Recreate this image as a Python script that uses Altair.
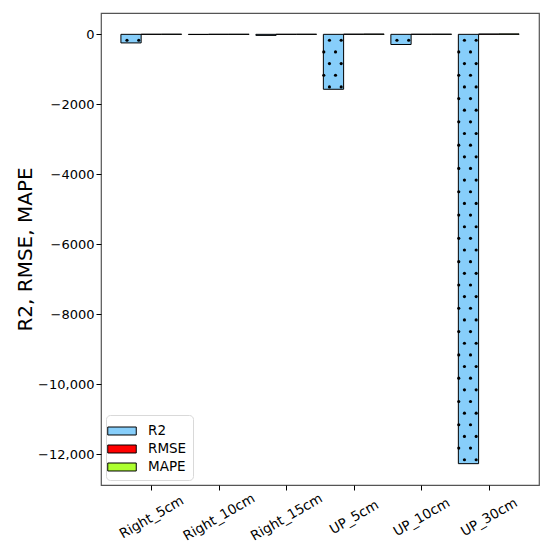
import altair as alt
import pandas as pd

categories = ["Right_5cm", "Right_10cm", "Right_15cm", "UP_5cm", "UP_10cm", "UP_30cm"]
metrics = ["R2", "RMSE", "MAPE"]
r2_values = [-245, -5, -30, -1570, -290, -12270]
rmse_values = [2.5, 1.2, 1.6, 5.1, 2.8, 9.7]
mape_values = [4.3, 1.8, 2.9, 8.5, 4.6, 12.4]
metric_colors = ["#87CEFA", "#FF0000", "#ADFF2F"]
y_ticks = [0, -2000, -4000, -6000, -8000, -10000, -12000]

BAR_W = 0.3
offsets = {"R2": -BAR_W, "RMSE": 0.0, "MAPE": BAR_W}
series = {"R2": r2_values, "RMSE": rmse_values, "MAPE": mape_values}

rows = []
for m in metrics:
    for i, (c, v) in enumerate(zip(categories, series[m])):
        center = i + offsets[m]
        rows.append({"category": c, "metric": m, "value": v,
                     "x0": center - BAR_W / 2, "x1": center + BAR_W / 2})
bars_df = pd.DataFrame(rows)

# dot texture for the R2 bars
dots = []
for i, v in enumerate(r2_values):
    left = i - BAR_W - BAR_W / 2
    y = -170.0
    k = 0
    while y > v + 40:
        fr = (0.3, 0.88) if k % 2 == 0 else (0.02, 0.6)
        for f in fr:
            dots.append({"xd": left + f * BAR_W, "yd": y})
        y -= 333
        k += 1
dots_df = pd.DataFrame(dots)

font = "DejaVu Sans"
xscale = alt.Scale(domain=[-0.745, 5.745], nice=False, zero=False)
yscale = alt.Scale(domain=[-12880, 610], nice=False, zero=False)

label_expr_x = "[" + ",".join("'" + c + "'" for c in categories) + "][datum.value]"

bars = alt.Chart(bars_df).mark_bar(stroke="black", strokeWidth=1, opacity=1).encode(
    x=alt.X("x0:Q", scale=xscale,
            axis=alt.Axis(values=list(range(len(categories))), labelExpr=label_expr_x,
                          title=None, labelAngle=330, labelAlign="center",
                          labelBaseline="middle", labelPadding=27, grid=False,
                          labelOverlap=False, labelFontSize=13.5, labelBound=False)),
    x2="x1:Q",
    y=alt.Y("value:Q", scale=yscale,
            axis=alt.Axis(values=y_ticks, grid=False, title="R2, RMSE, MAPE",
                          labelExpr="abs(datum.value) >= 10000 ? format(datum.value, ',') : format(datum.value, 'd')",
                          titleFontSize=20, titleFontWeight="normal", titlePadding=2,
                          labelOverlap=False)),
    y2=alt.datum(0),
    fill=alt.Fill("metric:N", scale=alt.Scale(domain=metrics, range=metric_colors),
                  legend=alt.Legend(title=None, orient="none", legendX=5, legendY=402,
                                    symbolType="M-1.5,-0.42L1.5,-0.42L1.5,0.42L-1.5,0.42Z",
                                    symbolSize=361, symbolStrokeColor="black",
                                    symbolStrokeWidth=1, labelOffset=16,
                                    labelFontSize=13.5, labelFont=font, rowPadding=1,
                                    padding=6, fillColor="white", strokeColor="#d9d9d9",
                                    cornerRadius=4)),
)

dots_layer = alt.Chart(dots_df).mark_circle(size=10, color="black", opacity=1).encode(
    x=alt.X("xd:Q", scale=xscale),
    y=alt.Y("yd:Q", scale=yscale),
)

chart = alt.layer(bars, dots_layer).properties(
    width=438, height=472,
    autosize=alt.AutoSizeParams(type="none"),
    padding={"left": 93, "top": 5, "right": 3, "bottom": 62},
).configure_view(
    stroke="#555", strokeWidth=1.2
).configure_axis(
    domain=False, tickColor="black", tickSize=5, labelFontSize=13, labelFont=font,
    labelColor="black", titleFont=font, titleColor="black"
)

chart.save("out.html", embed_options={"renderer": "svg", "actions": False})
